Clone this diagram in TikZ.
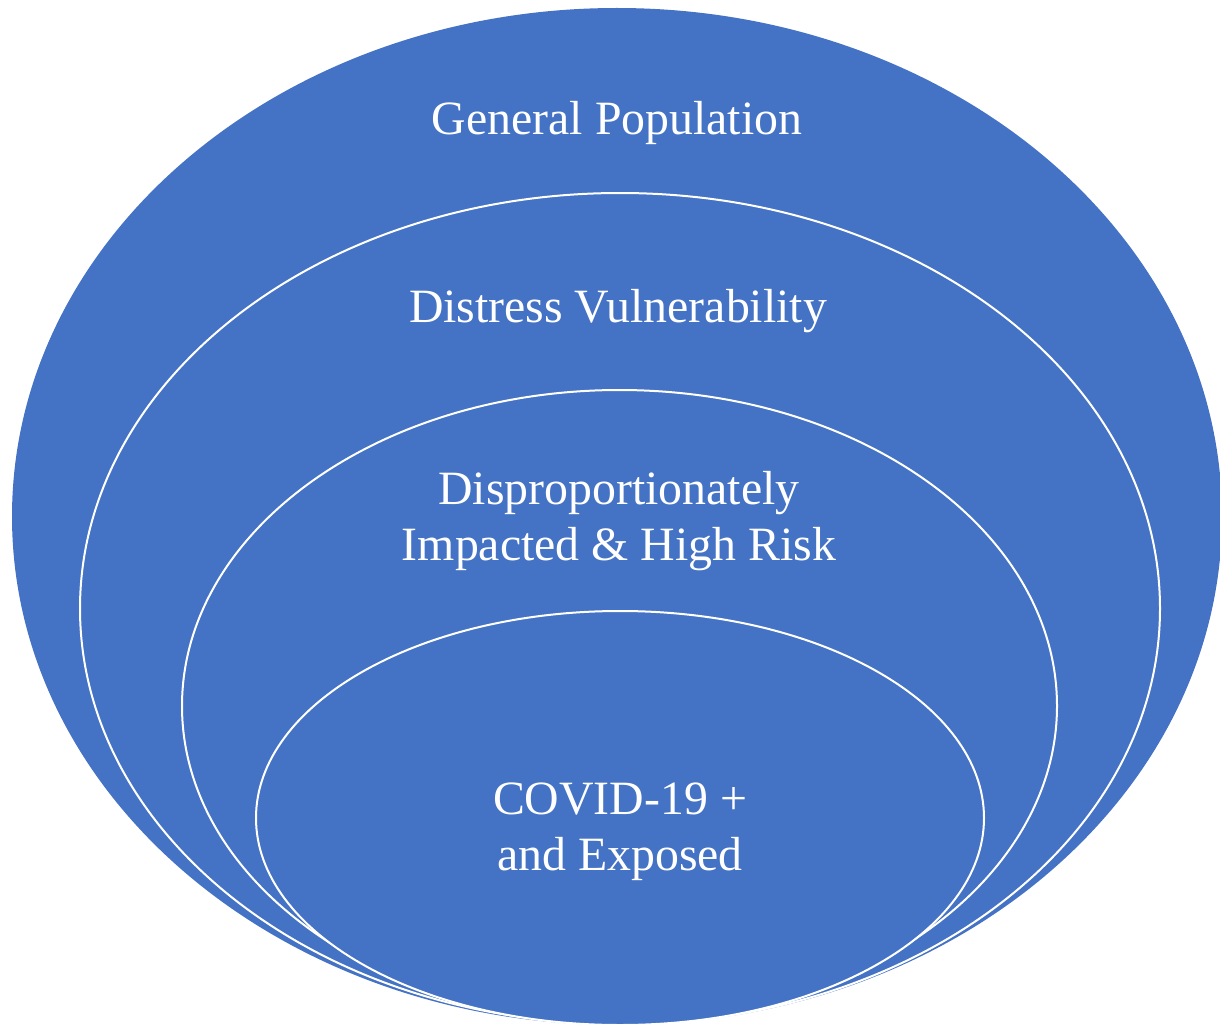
\documentclass[tikz,border=0pt]{standalone}
\usepackage{fontspec}
\setmainfont{Liberation Serif}
\definecolor{blueA}{HTML}{4472C4}
\begin{document}
\begin{tikzpicture}[x=1pt,y=-1pt]
\tikzset{
  ring/.style={fill=blueA,draw=white,line width=2pt},
  lbl/.style={text=white,font=\fontsize{47.8}{56}\selectfont,align=center,inner sep=0pt}
}
\useasboundingbox (0,0) rectangle (1220,1027);
\begin{scope}
\clip (0,0) rectangle (1220,1027);
\fill[blueA] (617,516.5) ellipse [x radius=605,y radius=508.5];
\end{scope}
\draw[ring] (620,608.5) ellipse [x radius=540,y radius=415.5];
\draw[ring] (619.5,706) ellipse [x radius=437.5,y radius=316];
\draw[ring] (620,818) ellipse [x radius=364,y radius=207];
\node[lbl] (gp) at (617,123) {General Population};
\node[lbl] (dv) at (618,311.5) {Distress Vulnerability};
\node[lbl] (di) at (619,521) {Disproportionately\\Impacted \& High Risk};
\node[lbl] (cv) at (620,832) {COVID-19 +\\and Exposed};
\end{tikzpicture}
\end{document}
